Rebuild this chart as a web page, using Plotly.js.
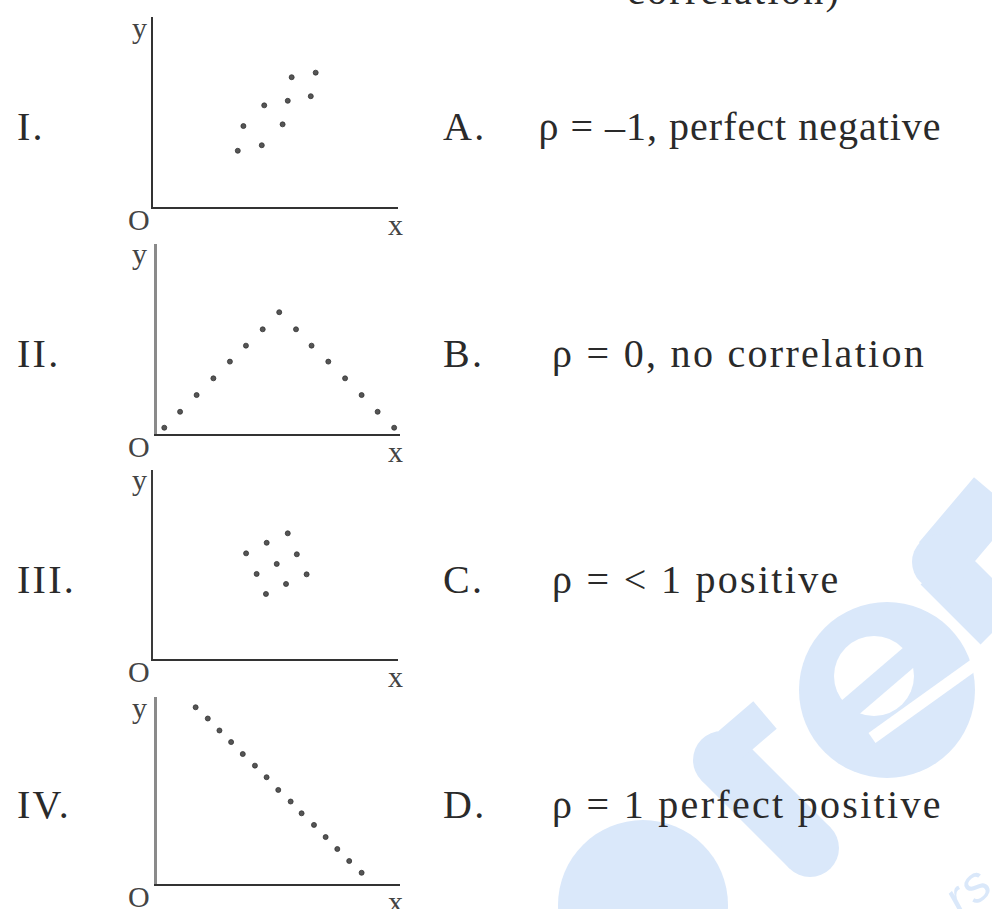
<!DOCTYPE html>
<html>
<head>
<meta charset="utf-8">
<script src="https://cdn.plot.ly/plotly-3.0.1.min.js"></script>
<style>
  body { margin: 0; background: #fff; }
  #plot { width: 992px; height: 909px; }
  .annotation-text { letter-spacing: 2.3px; }
  .annotation[data-index="14"] .annotation-text { letter-spacing: 1px; }
</style>
</head>
<body>
<div id="plot"></div>
<script>
// scatter points (0-100 on each axis)
var p1x = [34.6, 36.9, 44.4, 45.4, 52.9, 55.0, 56.6, 64.4, 66.4];
var p1y = [29.6, 42.6, 32.5, 53.5, 43.5, 55.9, 68.3, 58.3, 70.7];

var p2x = [3.0, 9.5, 16.3, 23.2, 30.0, 36.6, 43.5, 50.3, 57.2, 63.6, 70.5, 77.4, 84.2, 90.8, 97.6];
var p2y = [3.3, 11.7, 20.5, 29.3, 38.1, 46.5, 55.1, 64.1, 55.1, 46.5, 38.1, 29.3, 20.5, 11.7, 3.3];

var p3x = [55.0, 46.4, 38.0, 58.7, 50.5, 42.3, 62.7, 54.3, 46.1];
var p3y = [66.5, 61.5, 55.9, 55.4, 50.3, 45.0, 44.8, 39.7, 34.4];

var p4x = [15.9, 20.9, 25.7, 30.5, 35.3, 40.3, 45.1, 49.9, 55.0, 59.5, 64.6, 69.4, 74.2, 79.1, 84.2];
var p4y = [94.5, 88.5, 82.1, 75.9, 69.5, 63.3, 57.1, 50.3, 44.1, 37.8, 31.6, 25.1, 18.7, 12.3, 6.0];

var romanLabels = ['I.', 'II.', 'III.', 'IV.'];
var letterLabels = ['A.', 'B.', 'C.', 'D.'];
var answers = ['\u03c1 = \u20131, perfect negative', '\u03c1 = 0, no correlation',
               '\u03c1 = < 1 positive', '\u03c1 = 1 perfect positive'];

var W = 992, H = 909;
function fx(x) { return x / W; }
function fy(y) { return 1 - y / H; }

function initPlot() {
    var xs = [p1x, p2x, p3x, p4x];
    var ys = [p1y, p2y, p3y, p4y];
    var data = [];
    for (var i = 0; i < 4; i++) {
        var n = i === 0 ? '' : String(i + 1);
        data.push({
            x: xs[i], y: ys[i],
            xaxis: 'x' + n, yaxis: 'y' + n,
            type: 'scatter', mode: 'markers',
            marker: { size: 5, color: '#555', line: { width: 0.8, color: '#333' } },
            hoverinfo: 'skip', showlegend: false
        });
    }

    // panel boxes in pixels: left, right, top, bottom (bottom = x axis)
    var boxes = [[153, 398, 17, 207], [157, 400, 244, 434], [153, 398, 470, 659], [157, 400, 697, 884]];
    var ycol = ['#333', '#8a8a8a', '#3a3a3a', '#8a8a8a'];
    var ywid = [2, 3, 2, 3];

    var layout = {
        width: W, height: H,
        margin: { l: 0, r: 0, t: 0, b: 0 },
        paper_bgcolor: '#fff', plot_bgcolor: 'rgba(0,0,0,0)',
        showlegend: false,
        annotations: [], shapes: []
    };

    var serif = 'Liberation Serif, Times New Roman, serif';
    for (var k = 0; k < 4; k++) {
        var b = boxes[k];
        var s = k === 0 ? '' : String(k + 1);
        layout['xaxis' + s] = {
            domain: [fx(b[0]), fx(b[1])], anchor: 'y' + s, range: [0, 100],
            showline: true, linecolor: '#333', linewidth: 2,
            showgrid: false, zeroline: false, showticklabels: false, ticks: ''
        };
        layout['yaxis' + s] = {
            domain: [fy(b[3]), fy(b[2])], anchor: 'x' + s, range: [0, 100],
            showline: true, linecolor: ycol[k], linewidth: ywid[k],
            showgrid: false, zeroline: false, showticklabels: false, ticks: ''
        };
        // axis letters
        var lab = [['y', 140, b[2] + 10], ['O', 140, b[3] + 12], ['x', 396, b[3] + 17]];
        lab.forEach(function (l) {
            layout.annotations.push({
                xref: 'paper', yref: 'paper', x: fx(l[1]), y: fy(l[2]),
                xanchor: 'center', yanchor: 'middle', showarrow: false,
                text: l[0], font: { family: serif, size: 30, color: '#444' }
            });
        });
    }

    var rowY = [126, 353, 579, 804];
    for (var r = 0; r < 4; r++) {
        layout.annotations.push({
            xref: 'paper', yref: 'paper', x: fx(15), y: fy(rowY[r]),
            xanchor: 'left', yanchor: 'middle', showarrow: false,
            text: romanLabels[r], font: { family: serif, size: 40, color: '#2a2a2a' }
        });
        layout.annotations.push({
            xref: 'paper', yref: 'paper', x: fx(441), y: fy(rowY[r]),
            xanchor: 'left', yanchor: 'middle', showarrow: false,
            text: letterLabels[r], font: { family: serif, size: 40, color: '#2a2a2a' }
        });
        layout.annotations.push({
            xref: 'paper', yref: 'paper', x: fx(r === 0 ? 521 : 550), y: fy(rowY[r]),
            xanchor: 'left', yanchor: 'middle', showarrow: false,
            text: answers[r], font: { family: serif, size: 40, color: '#2a2a2a' }
        });
    }
    // cut-off line of the question above
    layout.annotations.push({
        xref: 'paper', yref: 'paper', x: fx(625), y: fy(-10),
        xanchor: 'left', yanchor: 'middle', showarrow: false,
        text: 'correlation)', font: { family: serif, size: 40, color: '#2a2a2a' }
    });

    // faint watermark behind the answers
    var wm = 'rgb(218,232,250)';
    function circ(cx, cy, rad, col) {
        layout.shapes.push({ type: 'circle', xref: 'paper', yref: 'paper', layer: 'below',
            x0: fx(cx - rad), x1: fx(cx + rad), y0: fy(cy + rad), y1: fy(cy - rad),
            fillcolor: col, line: { width: 0 } });
    }
    function bar(x0, y0, x1, y1, w, col) {
        layout.shapes.push({ type: 'line', xref: 'paper', yref: 'paper', layer: 'below',
            x0: fx(x0), y0: fy(y0), x1: fx(x1), y1: fy(y1), line: { color: col, width: w } });
    }
    circ(643, 905, 85, wm);
    bar(722, 760, 810, 848, 58, wm);
    circ(722, 760, 29, wm);
    circ(810, 848, 29, wm);
    bar(730, 745, 765, 715, 36, wm);
    circ(887, 690, 88, wm);
    circ(874, 676, 40, '#fff');
    bar(845, 712, 915, 652, 22, wm);
    bar(872, 738, 978, 662, 12, '#fff');
    bar(940, 565, 1000, 625, 55, wm);
    bar(940, 560, 995, 495, 55, wm);
    circ(940, 562, 28, wm);
    layout.annotations.push({
        xref: 'paper', yref: 'paper', x: fx(968), y: fy(890),
        xanchor: 'center', yanchor: 'middle', showarrow: false, textangle: -40,
        text: '<i>rs</i>', font: { family: 'Liberation Sans, sans-serif', size: 50, color: wm }
    });

    Plotly.newPlot('plot', data, layout, { displayModeBar: false, staticPlot: true });
}

document.addEventListener('DOMContentLoaded', function () {
    initPlot();
});
</script>
</body>
</html>
